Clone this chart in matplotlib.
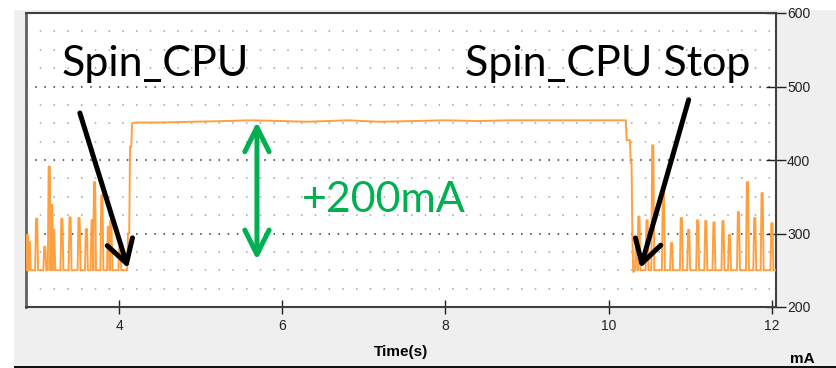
import numpy as np
import matplotlib.pyplot as plt
from matplotlib.patches import Rectangle

# current trace (time in s, current in mA)
base_level = 250

left_spike_t = [2.876, 2.90, 2.99, 3.09, 3.145, 3.175, 3.20, 3.30, 3.40, 3.51,
                3.60, 3.67, 3.70, 3.79, 3.87, 3.90, 4.01]
left_spike_v = [298, 289, 320, 282, 391, 339, 305, 320, 322, 321,
                306, 318, 370, 352, 309, 318, 282]

rise_t = [4.10, 4.11, 4.125, 4.135, 4.15, 4.16]
rise_v = [250, 300, 300, 418, 418, 450]

plateau_t = [4.20, 4.50, 4.90, 5.30, 5.60, 6.00, 6.30, 6.80, 7.20, 7.60,
             8.00, 8.40, 8.80, 9.20, 9.60, 10.00, 10.21]
plateau_v = [451, 451, 452, 453, 454, 453, 452, 454, 452, 453,
             454, 453, 454, 454, 454, 454, 454]

fall_t = [10.22, 10.26, 10.27, 10.28, 10.29, 10.30, 10.31]
fall_v = [427, 427, 396, 396, 300, 248, 248]

right_spike_t = [10.34, 10.37, 10.47, 10.54, 10.67, 10.77, 10.89, 10.98, 11.09,
                 11.19, 11.29, 11.40, 11.48, 11.59, 11.70, 11.79, 11.88, 12.00]
right_spike_v = [295, 323, 318, 420, 355, 287, 321, 305, 318,
                 317, 315, 317, 298, 329, 370, 321, 355, 314]

x_ticks = [4, 6, 8, 10, 12]
y_ticks = [200, 300, 400, 500, 600]


def spikes(ts, vs, w=0.018):
    xs, ys = [], []
    for t, v in zip(ts, vs):
        xs += [t - w, t - w * 0.4, t + w * 0.4, t + w]
        ys += [base_level, v, v, base_level]
    return xs, ys


lx, ly = spikes(left_spike_t, left_spike_v)
rx, ry = spikes(right_spike_t, right_spike_v)
trace_t = [2.86] + lx + rise_t + plateau_t + fall_t + rx + [12.05]
trace_v = [base_level] + ly + rise_v + plateau_v + fall_v + ry + [base_level]

W, H = 836, 368
fig = plt.figure(figsize=(W / 100, H / 100), dpi=100)
fig.patch.set_facecolor('white')
fig.patches.append(Rectangle((14 / W, 2 / H), 1, 356 / H, transform=fig.transFigure,
                             facecolor='#efefef', edgecolor='none', zorder=-5))
fig.patches.append(Rectangle((14 / W, 0), 1, 2.5 / H, transform=fig.transFigure,
                             facecolor='#111111', edgecolor='none', zorder=-4))

ax = fig.add_axes([26 / W, 1 - 307 / H, 750 / W, 294 / H])
ax.set_facecolor('white')
ax.set_xlim(2.86, 12.05)
ax.set_ylim(200, 600)

# dotted grid
for y in range(225, 600, 25):
    if y % 100 == 0:
        ax.axhline(y, color='#303030', lw=1.1, ls=(0, (1, 5)), zorder=1)
    else:
        ax.axhline(y, color='#9aa4b8', lw=1.1, ls=(0, (1, 8)), zorder=1)

ax.plot(trace_t, trace_v, color='#ffa040', lw=1.4, zorder=3)

ax.yaxis.tick_right()
ax.set_xticks(x_ticks)
ax.set_yticks(y_ticks)
ax.tick_params(axis='x', direction='inout', length=10, width=1, colors='#222222',
               labelsize=10, pad=4)
ax.tick_params(axis='y', direction='inout', length=14, width=1, colors='#222222',
               labelsize=10, pad=1)
for lab in ax.get_xticklabels() + ax.get_yticklabels():
    lab.set_fontfamily('Liberation Sans')
for s in ax.spines.values():
    s.set_color('#404040')
    s.set_linewidth(1.5)
ax.spines['left'].set_color('#606060')
ax.spines['left'].set_linewidth(2)

fig.text(401 / W, 1 - 352 / H, 'Time(s)', ha='center', va='center',
         fontsize=11, fontweight='bold', family='Liberation Sans')
fig.text(802 / W, 1 - 359 / H, 'mA', ha='center', va='center',
         fontsize=11, fontweight='bold', family='Liberation Sans')

# annotations
ax.text(3.29, 514, 'Spin_CPU', fontsize=31, family='Lato', color='black',
        va='baseline', zorder=5)
ax.text(8.24, 514, 'Spin_CPU Stop', fontsize=31, family='Lato', color='black',
        va='baseline', zorder=5)
ax.text(6.24, 329, '+200mA', fontsize=31, family='Lato', color='#00b050',
        va='baseline', zorder=5)

black_arrow = dict(arrowstyle='->, head_length=0.65, head_width=0.38', lw=3.6,
                   color='black', shrinkA=0, shrinkB=0, mutation_scale=25)
ax.annotate('', xy=(4.11, 253), xytext=(3.52, 464), arrowprops=black_arrow, zorder=6)
ax.annotate('', xy=(10.39, 253), xytext=(10.98, 482), arrowprops=black_arrow, zorder=6)
ax.annotate('', xy=(5.69, 264), xytext=(5.69, 452),
            arrowprops=dict(arrowstyle='<->, head_length=0.7, head_width=0.35',
                            lw=3.6, color='#00b050', shrinkA=0, shrinkB=0,
                            mutation_scale=25), zorder=6)

fig.savefig('out.png', dpi=100)
